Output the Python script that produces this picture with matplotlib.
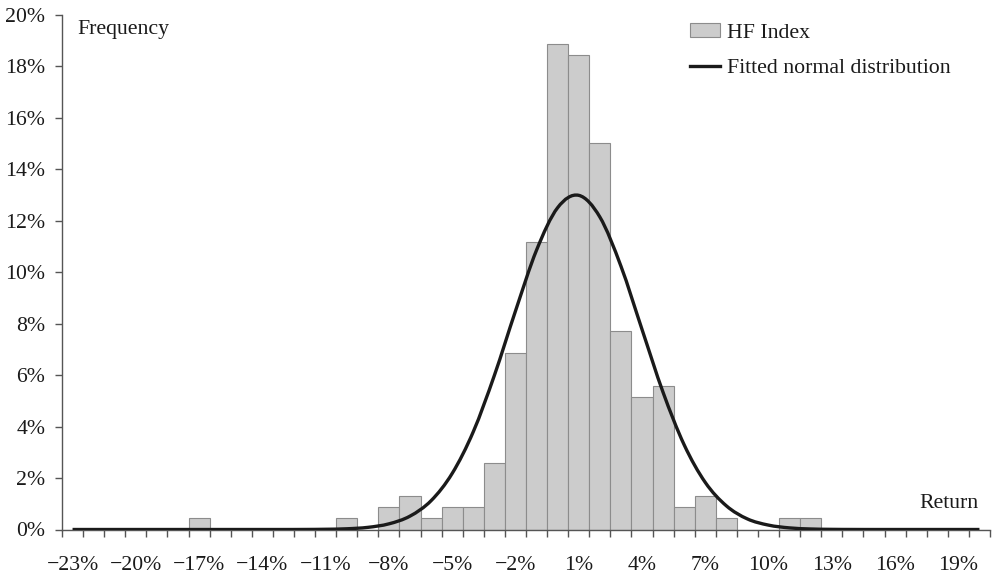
import matplotlib
matplotlib.use("Agg")
import matplotlib.pyplot as plt
from matplotlib.patches import Patch, PathPatch
from matplotlib.lines import Line2D
from matplotlib.path import Path
import numpy as np

# ---- data (returns in %, frequency in %) ----
returns = list(range(-23, 21))
hf_freq = [0, 0, 0, 0, 0, 0, 0.43, 0, 0, 0, 0, 0, 0, 0.43, 0, 0.86, 1.29, 0.43,
           0.86, 0.86, 2.58, 6.87, 11.16, 18.88, 18.45, 15.02, 7.73, 5.15, 5.58,
           0.86, 1.29, 0.43, 0, 0, 0.43, 0.43, 0, 0, 0, 0, 0, 0, 0, 0]
normal_fit = [0, 0, 0, 0, 0, 0, 0, 0, 0, 0, 0, 0.002, 0.009, 0.028, 0.083, 0.22,
              0.52, 1.12, 2.18, 3.80, 5.99, 8.49, 10.86, 12.51, 12.99, 12.15, 10.24,
              7.78, 5.33, 3.29, 1.83, 0.92, 0.41, 0.17, 0.062, 0.020, 0.006, 0.0015,
              0, 0, 0, 0, 0, 0]
label_returns = list(range(-23, 20, 3))
y_ticks = list(range(0, 21, 2))

FS = 15.7
plt.rcParams['font.family'] = ['Liberation Serif', 'DejaVu Serif']
plt.rcParams['font.size'] = FS

fig = plt.figure(figsize=(9.94, 5.76), dpi=100)
ax = fig.add_axes([62 / 994, 46.5 / 576, 928 / 994, 514.5 / 576])

ax.bar(returns, hf_freq, width=1.0, color='#cccccc', edgecolor='#8c8c8c',
       linewidth=0.8, zorder=2)

# smooth curve through the fitted points (Catmull-Rom -> cubic Bezier)
xs = np.array(returns, dtype=float)
ys = np.array(normal_fit, dtype=float)
verts = [(xs[0], ys[0])]
codes = [Path.MOVETO]
n = len(xs)
for i in range(n - 1):
    p0 = (xs[max(i - 1, 0)], ys[max(i - 1, 0)])
    p1 = (xs[i], ys[i])
    p2 = (xs[i + 1], ys[i + 1])
    p3 = (xs[min(i + 2, n - 1)], ys[min(i + 2, n - 1)])
    c1 = (p1[0] + (p2[0] - p0[0]) / 6, p1[1] + (p2[1] - p0[1]) / 6)
    c2 = (p2[0] - (p3[0] - p1[0]) / 6, p2[1] - (p3[1] - p1[1]) / 6)
    verts += [c1, c2, p2]
    codes += [Path.CURVE4] * 3
ax.add_patch(PathPatch(Path(verts, codes), facecolor='none', edgecolor='#1a1a1a',
                       linewidth=2.4, zorder=3, capstyle='butt'))

ax.set_xlim(returns[0] - 0.5, returns[-1] + 0.5)
ax.set_ylim(0, 20)

for s in ('top', 'right'):
    ax.spines[s].set_visible(False)
for s in ('left', 'bottom'):
    ax.spines[s].set_color('#555555')
    ax.spines[s].set_linewidth(1.0)

# y axis
ax.set_yticks(y_ticks)
ax.set_yticklabels([f"{v}%" for v in y_ticks])
ax.tick_params(axis='y', direction='out', length=5, width=1.0, color='#555555',
               pad=7, labelcolor='#1a1a1a', labelsize=FS)

# x axis: tick marks at category edges, labels at category centers
edges = np.arange(returns[0] - 0.5, returns[-1] + 1.0, 1.0)
ax.set_xticks(edges)
ax.set_xticklabels([])
ax.tick_params(axis='x', which='major', direction='out', length=5, width=1.0,
               color='#555555')
ax.set_xticks(label_returns, minor=True)
ax.set_xticklabels([f"{v}%".replace('-', '\u2212') for v in label_returns], minor=True)
ax.tick_params(axis='x', which='minor', length=0, pad=19, labelcolor='#1a1a1a',
               labelsize=FS)

ax.text((77.7 - 62) / 928, 1 - (29.5 - 15) / 514.5, "Frequency",
        transform=ax.transAxes, ha='left', va='center', color='#1a1a1a', fontsize=FS)
ax.text((978 - 62) / 928, (529.5 - 503) / 514.5, "Return",
        transform=ax.transAxes, ha='right', va='center', color='#1a1a1a', fontsize=FS)

handles = [Patch(facecolor='#cccccc', edgecolor='#8c8c8c', linewidth=0.8),
           Line2D([], [], color='#1a1a1a', linewidth=2.4)]
fig.legend(handles, ['HF Index', 'Fitted normal distribution'],
           loc='upper left', bbox_to_anchor=(679 / 994, 1 - 12 / 576),
           frameon=False, borderpad=0, handlelength=1.4, handleheight=0.6,
           handletextpad=0.3, labelspacing=0.72, fontsize=FS, labelcolor='#1a1a1a')

fig.savefig('out.png', dpi=100, facecolor='white')
